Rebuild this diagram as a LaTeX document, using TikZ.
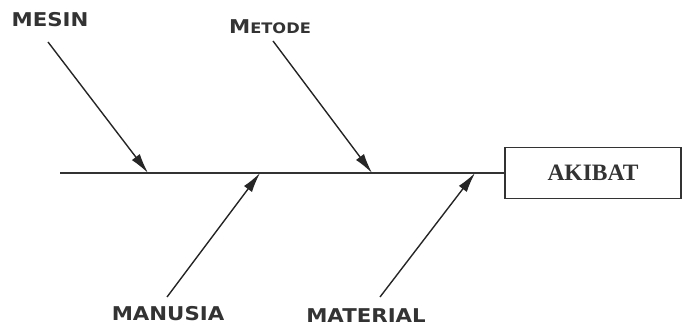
\documentclass[tikz,border=0pt]{standalone}
\usepackage{fontspec}
\usepackage{tikz}
\usetikzlibrary{arrows.meta}
\setmainfont{Liberation Serif}
\newfontfamily\copperfont[FakeStretch=1.12]{DejaVu Sans}

\begin{document}
\begin{tikzpicture}[x=1pt,y=1pt]
        \useasboundingbox (0,0) rectangle (684,328);
        \tikzset{causeText/.style={font=\copperfont\bfseries\fontsize{19}{19}\selectfont, inner sep=0pt, text=black!80}}
        \tikzset{bone/.style={line width=1.4pt, draw=black!85, -{Latex[length=20pt,width=10pt]}}}
        \node[draw=black!80, line width=1.4pt, minimum width=176pt, minimum height=51pt, font=\bfseries\fontsize{23.5}{23.5}\selectfont, text=black!80] (akibat) at (593,155) {AKIBAT};
        \coordinate (tail) at (60,155);
        \draw[line width=1.8pt, black!80] (tail) -- (akibat.west);
        \node[causeText] (mesin) at (50,308) {MESIN};
        \node[causeText] (metode) at (270,301) {M{\fontsize{14.5}{14.5}\selectfont ETODE}};
        \node[causeText] (manusia) at (168,14) {MANUSIA};
        \node[causeText] (material) at (366,12) {MATERIAL};
        \coordinate (mesinS) at (48,286);
        \coordinate (metodeS) at (273,287);
        \coordinate (manusiaS) at (167,31);
        \coordinate (materialS) at (380,31);
        \coordinate (mesinE) at (148,155);
        \coordinate (metodeE) at (372,155);
        \coordinate (manusiaE) at (260,155);
        \coordinate (materialE) at (475,155);
        \draw[bone] (mesinS) -- (mesinE);
        \draw[bone] (metodeS) -- (metodeE);
        \draw[bone] (manusiaS) -- (manusiaE);
        \draw[bone] (materialS) -- (materialE);
    \end{tikzpicture}
\end{document}
